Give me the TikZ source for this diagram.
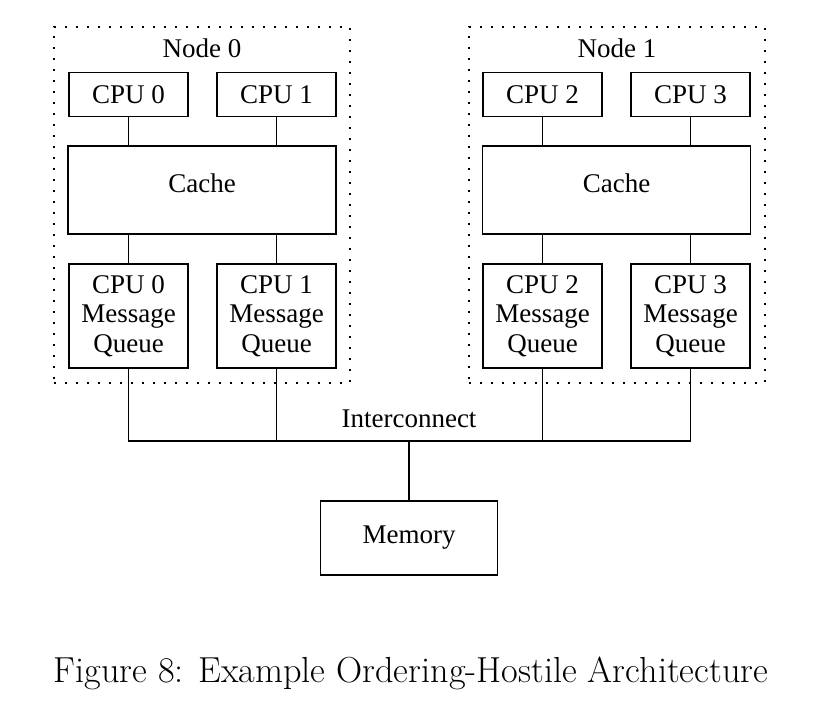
\documentclass[tikz,border=0pt]{standalone}
\usepackage{fontspec}
\newfontfamily\diagfont{Liberation Serif}
\begin{document}
\begin{tikzpicture}[x=0.5pt, y=-0.5pt, line width=0.55pt]
% Estilos
\tikzstyle{unit} = [rectangle, draw, inner sep=0pt, align=center, font=\diagfont\fontsize{13.5}{14.8}\selectfont]
\tikzstyle{cpu} = [unit, minimum width=59.5pt, minimum height=22pt]
\tikzstyle{cache} = [unit, minimum width=134pt, minimum height=44pt, text depth=7pt]
\tikzstyle{queue} = [unit, minimum width=59.5pt, minimum height=52pt]
\tikzstyle{group} = [rectangle, draw, dash pattern=on 1pt off 4.5pt, minimum width=148pt, minimum height=178pt]
\tikzstyle{lbl} = [font=\diagfont\fontsize{13.5}{14.8}\selectfont]

\useasboundingbox (0,0) rectangle (822,720);

% Nodos (grupos)
\node[group] (node0) at (202,205) {};
\node[group] (node1) at (617,205) {};
\node[lbl] (node0lbl) at (202,48) {Node 0};
\node[lbl] (node1lbl) at (617,48) {Node 1};

% CPUs
\node[cpu] (cpu0) at (128.5,94.5) {CPU 0};
\node[cpu] (cpu1) at (276.5,94.5) {CPU 1};
\node[cpu] (cpu2) at (542.5,94.5) {CPU 2};
\node[cpu] (cpu3) at (690.5,94.5) {CPU 3};

% Caches
\node[cache] (cache0) at (202,190) {Cache};
\node[cache] (cache1) at (616.5,190) {Cache};

% Colas de mensajes
\node[queue] (mq0) at (128.5,316) {CPU 0\\Message\\Queue};
\node[queue] (mq1) at (276.5,316) {CPU 1\\Message\\Queue};
\node[queue] (mq2) at (542.5,316) {CPU 2\\Message\\Queue};
\node[queue] (mq3) at (690.5,316) {CPU 3\\Message\\Queue};

% Memoria
\node[unit, minimum width=88.5pt, minimum height=37pt] (memory) at (409,538) {Memory};

% Conexiones
\draw (cpu0) -- (cpu0 |- cache0.north);
\draw (cpu1) -- (cpu1 |- cache0.north);
\draw (cpu2) -- (cpu2 |- cache1.north);
\draw (cpu3) -- (cpu3 |- cache1.north);
\draw (mq0) -- (mq0 |- cache0.south);
\draw (mq1) -- (mq1 |- cache0.south);
\draw (mq2) -- (mq2 |- cache1.south);
\draw (mq3) -- (mq3 |- cache1.south);

% Interconexion
\coordinate (bus) at (409,441);
\draw (mq0.south) |- (bus) -| (mq3.south);
\draw (mq1.south) -- (mq1.south |- bus);
\draw (mq2.south) -- (mq2.south |- bus);
\draw (bus) -- (memory);
\node[lbl] (buslbl) at (409,419) {Interconnect};

% Pie de figura
\node[font=\fontsize{18.1}{21}\selectfont] (caption) at (411,673) {Figure 8: Example Ordering-Hostile Architecture};
\end{tikzpicture}
\end{document}
